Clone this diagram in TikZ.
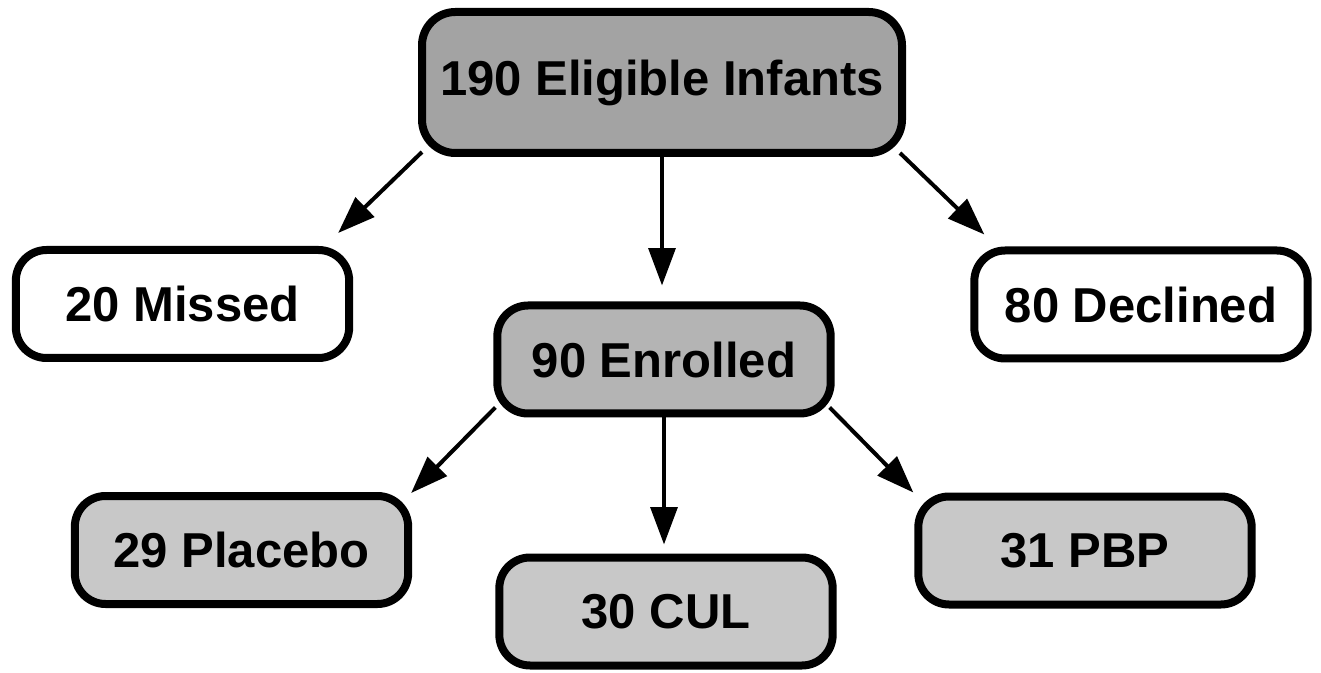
\documentclass[tikz,border=0pt]{standalone}
\usepackage{fontspec}
\setmainfont{Liberation Sans}
\usepackage{xcolor}
\definecolor{DarkGray}{RGB}{163,163,163}
\definecolor{MidGray}{RGB}{180,180,180}
\definecolor{LightGray}{RGB}{200,200,200}
\definecolor{Black}{RGB}{0,0,0}
\definecolor{White}{RGB}{255,255,255}
\usepackage{tikz}
\usetikzlibrary{arrows.meta}

\begin{document}
\begin{tikzpicture}[x=0.75pt, y=-0.75pt,
		box/.style={draw=Black, line width=6pt, rounded corners=23pt, inner sep=0pt, minimum width=250pt, minimum height=81pt, font=\fontsize{36.75}{44}\selectfont\bfseries, text=Black},
		arrow/.style={-{Triangle[length=28pt, width=20pt]}, line width=3pt, draw=Black}]

		% Frame
		\useasboundingbox (0,0) rectangle (1321,673);

		% Boxes
		\node[box, fill=DarkGray, minimum width=360pt, minimum height=105.75pt, rounded corners=25pt] (eligible) at (662, 82.5) {190 Eligible Infants};
		\node[box, fill=White] 		(missed) 	at (182.5, 304) {20 Missed};
		\node[box, fill=White] 		(declined) 	at (1141, 304.5) {80 Declined};
		\node[box, fill=MidGray] 	(enrolled) 	at (664, 359.5) {90 Enrolled};
		\node[box, fill=LightGray] 	(placebo) 	at (241.5, 550) {29 Placebo};
		\node[box, fill=LightGray] 	(cul) 		at (666, 611.5) {30 CUL};
		\node[box, fill=LightGray] 	(pbp) 		at (1085, 550.5) {31 PBP};

		% Arrows
		\draw[arrow] ([shift={(4,-5)}]eligible.south west) -- ([shift={(-15,-13)}]missed.north east);
		\draw[arrow, shorten >=12pt] (eligible.south) -- (eligible.south |- enrolled.north);
		\draw[arrow] ([shift={(-6,-4)}]eligible.south east) -- ([shift={(14,-12)}]declined.north west);
		\draw[arrow] ([shift={(2,-10)}]enrolled.south west) -- ([shift={(-1,1)}]placebo.north east);
		\draw[arrow, shorten >=6.75pt] (enrolled.south) -- (enrolled.south |- cul.north);
		\draw[arrow] ([shift={(-5,-10)}]enrolled.south east) -- ([shift={(-1,0)}]pbp.north west);

	\end{tikzpicture}
\end{document}
